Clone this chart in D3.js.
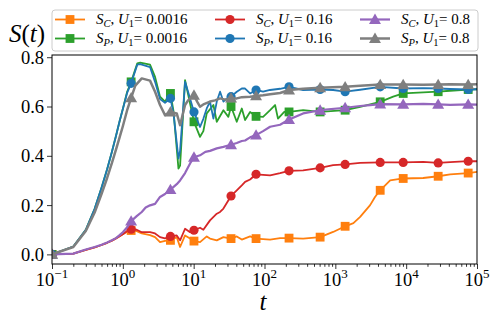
<!DOCTYPE html>
<html><head><meta charset="utf-8">
<script src="https://cdn.jsdelivr.net/npm/d3@7"></script>
<style>body{margin:0;background:#fff} svg{display:block}
svg text{font-family:"Liberation Serif","Times New Roman","DejaVu Serif",serif;}
</style>
</head><body>
<svg id="c" width="499" height="322"></svg>
<script>
// ---- data ----
const markerT = [0.1, 1.31, 4.7, 10.1, 33.7, 76, 222, 610, 1375, 4300, 9080, 28300, 75100];
const xTicks = [0.1, 1, 10, 100, 1000, 10000, 100000];
const xTickExp = ["\u22121", "0", "1", "2", "3", "4", "5"];
const yTicks = [0.0, 0.2, 0.4, 0.6, 0.8];

// S_C, U1 = 0.0016 (orange)
const tOrange = [0.2,0.3,0.4,0.5,0.6,0.7,0.8,0.9,1.0,1.15,1.57,1.85,2.42,2.85,3.35,3.94,5.77,6.43,7.56,8.9,12.3,15.3,17,21.2,26.3,40.6,47.8,62.6,95.5,120,166,351,931,1800,2240,3100,3630,5940,17400,41800,100000];
const vOrange = [0.003,0.018,0.028,0.038,0.047,0.056,0.065,0.074,0.082,0.092,0.094,0.085,0.078,0.07,0.05,0.055,0.07,0.03,0.077,0.064,0.05,0.073,0.064,0.057,0.07,0.073,0.06,0.073,0.062,0.06,0.066,0.064,0.091,0.127,0.152,0.2,0.233,0.30,0.31,0.325,0.335];
const mOrange = [0,0.097,0.057,0.054,0.064,0.064,0.066,0.070,0.114,0.260,0.308,0.317,0.330];

// S_P, U1 = 0.0016 (green)
const tGreen = [0.2,0.3,0.4,0.5,0.6,0.7,0.8,0.9,1.0,1.15,1.6,1.76,2.42,2.85,3.35,3.94,5.2,6.1,6.43,7.56,8.34,12.3,13.7,15.3,19,21.2,26.3,30.9,40.6,47.8,53.2,62.6,95.5,120,141,155,190,351,2240,6550,17400,41800,100000];
const vGreen = [0.032,0.10,0.185,0.27,0.345,0.415,0.48,0.54,0.59,0.66,0.775,0.778,0.77,0.72,0.64,0.62,0.58,0.348,0.36,0.707,0.65,0.477,0.50,0.572,0.606,0.538,0.585,0.558,0.538,0.592,0.545,0.578,0.558,0.585,0.606,0.551,0.578,0.585,0.599,0.64,0.657,0.664,0.67];
const mGreen = [0,0.70,0.653,0.538,0.60,0.56,0.578,0.578,0.585,0.619,0.653,0.66,0.669];

// S_C, U1 = 0.16 (red)
const tRed = [0.2,0.3,0.4,0.5,0.6,0.7,0.8,0.9,1.0,1.15,1.57,1.85,2.42,2.85,3.35,3.94,5.77,6.43,7.56,8.9,12.3,13.7,17,21.2,23.6,26.3,40.6,47.8,53.2,62.6,120,166,351,931,2240,17400,41800,100000];
const vRed = [0.003,0.018,0.028,0.038,0.047,0.056,0.065,0.074,0.082,0.095,0.10,0.09,0.09,0.085,0.07,0.065,0.077,0.057,0.104,0.09,0.108,0.10,0.138,0.165,0.172,0.186,0.26,0.28,0.294,0.304,0.321,0.33,0.341,0.362,0.371,0.375,0.374,0.378];
const mRed = [0,0.102,0.073,0.098,0.237,0.325,0.339,0.351,0.365,0.373,0.373,0.371,0.378];

// S_P, U1 = 0.16 (blue)
const tBlue = [0.2,0.3,0.4,0.5,0.6,0.7,0.8,0.9,1.0,1.15,1.6,1.76,2.42,2.85,3.35,3.94,5.2,6.1,6.43,7.56,8.34,12.3,13.7,15.3,17,19,21.2,23.6,26.3,28.7,40.6,47.8,53.2,62.6,95.5,120,166,351,931,2240,17400,41800,100000];
const vBlue = [0.032,0.10,0.185,0.27,0.345,0.415,0.48,0.54,0.59,0.655,0.77,0.772,0.76,0.70,0.63,0.615,0.57,0.389,0.42,0.70,0.66,0.517,0.55,0.592,0.62,0.551,0.62,0.66,0.62,0.63,0.66,0.673,0.673,0.653,0.66,0.667,0.672,0.667,0.667,0.668,0.675,0.671,0.67];
const mBlue = [0,0.694,0.633,0.578,0.64,0.667,0.68,0.669,0.66,0.68,0.673,0.673,0.669];

// S_C, U1 = 0.8 (purple)
const tPurple = [0.2,0.3,0.4,0.5,0.6,0.7,0.8,0.9,1.0,1.15,1.57,1.85,2.1,2.42,2.85,3.35,3.94,5.77,6.43,7.56,8.9,12.3,14.6,17,21.2,26.3,40.6,47.8,53.2,62.6,95.5,120,166,351,2240,3100,17400,41800,100000];
const vPurple = [0.003,0.02,0.03,0.039,0.048,0.057,0.066,0.078,0.09,0.11,0.155,0.172,0.19,0.199,0.205,0.233,0.245,0.285,0.30,0.33,0.369,0.402,0.416,0.42,0.43,0.436,0.452,0.46,0.462,0.475,0.50,0.518,0.526,0.572,0.602,0.606,0.611,0.607,0.608];
const mPurple = [0,0.135,0.263,0.394,0.445,0.484,0.547,0.585,0.595,0.610,0.609,0.609,0.609];

// S_P, U1 = 0.8 (gray)
const tGray = [0.2,0.3,0.4,0.5,0.6,0.7,0.8,0.9,1.0,1.15,1.5,1.85,2.42,2.85,3.35,3.94,5.77,6.43,7.56,8.34,11.2,12.3,14,17,20,23.6,28,40.6,47.8,62.6,95.5,120,166,351,2240,17400,41800,100000];
const vGray = [0.03,0.095,0.17,0.245,0.31,0.37,0.425,0.475,0.52,0.585,0.685,0.714,0.705,0.66,0.606,0.565,0.572,0.524,0.606,0.625,0.62,0.599,0.61,0.62,0.625,0.633,0.628,0.633,0.638,0.64,0.646,0.65,0.655,0.672,0.684,0.688,0.69,0.69];
const mGray = [0,0.635,0.578,0.646,0.634,0.643,0.667,0.676,0.68,0.689,0.689,0.689,0.689];

const series = [
  {sub:"C", u:"0.0016", color:"#ff7f0e", shape:"square",   lw:1.8, t:tOrange, v:vOrange, m:mOrange},
  {sub:"P", u:"0.0016", color:"#2ca02c", shape:"square",   lw:1.8, t:tGreen,  v:vGreen,  m:mGreen},
  {sub:"C", u:"0.16",   color:"#d62728", shape:"circle",   lw:1.8, t:tRed,    v:vRed,    m:mRed},
  {sub:"P", u:"0.16",   color:"#1f77b4", shape:"circle",   lw:1.8, t:tBlue,   v:vBlue,   m:mBlue},
  {sub:"C", u:"0.8",    color:"#9467bd", shape:"triangle", lw:2.2, t:tPurple, v:vPurple, m:mPurple},
  {sub:"P", u:"0.8",    color:"#7f7f7f", shape:"triangle", lw:2.5, t:tGray,   v:vGray,   m:mGray}
];

// ---- chart ----
const svg = d3.select("#c");
const L = 52, R = 477, T = 55, B = 264;
const x = d3.scaleLog().domain([0.1, 1e5]).range([L, R]);
const y = d3.scaleLinear().domain([-0.039, 0.809]).range([B, T]);

svg.append("defs").append("clipPath").attr("id","clip")
  .append("rect").attr("x",L).attr("y",T).attr("width",R-L).attr("height",B-T);

function sym(shape){
  if(shape==="square") return d3.symbol().type(d3.symbolSquare).size(78)();
  if(shape==="circle") return d3.symbol().type(d3.symbolCircle).size(66)();
  return d3.symbol().type(d3.symbolTriangle).size(62)();
}

// axes
const minor = [];
for (let e=-1; e<5; e++) for (let k=2; k<10; k++) minor.push(k*Math.pow(10,e));
const gx = svg.append("g").attr("transform",`translate(0,${B})`);
gx.call(d3.axisBottom(x).tickValues(minor).tickSize(2.8).tickFormat(""));
gx.append("g").call(d3.axisBottom(x).tickValues(xTicks).tickSize(5).tickFormat(""));
gx.selectAll(".domain").remove();
gx.selectAll("line").attr("stroke","#000").attr("stroke-width",0.8);

const xl = svg.append("g");
xTicks.forEach((t,i)=>{
  const tx = xl.append("text").attr("x", x(t)).attr("y", 286)
    .attr("text-anchor","middle").attr("font-size",18.5).attr("fill","#000");
  tx.append("tspan").text("10");
  tx.append("tspan").attr("dy",-8).attr("font-size",13).text(xTickExp[i]);
});

const gy = svg.append("g").attr("transform",`translate(${L},0)`);
gy.call(d3.axisLeft(y).tickValues(yTicks).tickSize(5).tickPadding(3).tickFormat(d3.format(".1f")));
gy.selectAll(".domain").remove();
gy.selectAll("line").attr("stroke","#000").attr("stroke-width",0.8);
gy.selectAll("text").attr("font-family",null).attr("font-size",18.5).attr("fill","#000");
gy.attr("font-family",null);
gx.attr("font-family",null);

// lines + markers
const plot = svg.append("g").attr("clip-path","url(#clip)");
const line = d3.line().x(d=>x(d[0])).y(d=>y(d[1]));
series.forEach(s=>{
  const pts = s.t.map((t,i)=>[t,s.v[i]]).concat(markerT.map((t,i)=>[t,s.m[i]]));
  pts.sort((a,b)=>a[0]-b[0]);
  plot.append("path").datum(pts).attr("d",line).attr("fill","none")
    .attr("stroke",s.color).attr("stroke-width",s.lw).attr("stroke-linejoin","round");
  plot.selectAll(null).data(markerT.map((t,i)=>[t,s.m[i]])).enter().append("path")
    .attr("d",sym(s.shape)).attr("fill",s.color)
    .attr("transform",d=>`translate(${x(d[0])},${y(d[1]) + (s.shape==="triangle"?1:0)})`);
});

// frame
svg.append("rect").attr("x",L).attr("y",T).attr("width",R-L).attr("height",B-T)
  .attr("fill","none").attr("stroke","#000").attr("stroke-width",1);

// axis labels
const yl = svg.append("text").attr("x",9).attr("y",42).attr("font-size",25).attr("fill","#000");
yl.append("tspan").attr("font-style","italic").text("S");
yl.append("tspan").text("(");
yl.append("tspan").attr("font-style","italic").text("t");
yl.append("tspan").text(")");
svg.append("text").attr("x",263).attr("y",310).attr("text-anchor","middle")
  .attr("font-size",25).attr("font-style","italic").attr("fill","#000").text("t");

// legend
const lg = svg.append("g");
lg.append("rect").attr("x",52).attr("y",10).attr("width",426).attr("height",41).attr("rx",3)
  .attr("fill","#fff").attr("fill-opacity",0.85).attr("stroke","#ccc").attr("stroke-width",1);
const colX = [55, 215, 360];
const rowY = [19.5, 38.5];
series.forEach((s,i)=>{
  const cx = colX[Math.floor(i/2)], cy = rowY[i%2];
  lg.append("line").attr("x1",cx).attr("x2",cx+30).attr("y1",cy).attr("y2",cy)
    .attr("stroke",s.color).attr("stroke-width",s.lw);
  lg.append("path").attr("d",sym(s.shape)).attr("fill",s.color)
    .attr("transform",`translate(${cx+15},${cy + (s.shape==="triangle"?1:0)})`);
  const tx = lg.append("text").attr("x",cx+41).attr("y",cy+4.5)
    .attr("font-size",15).attr("fill","#000");
  tx.append("tspan").attr("font-style","italic").text("S");
  tx.append("tspan").attr("font-style","italic").attr("font-size",10.5).attr("dy",3).text(s.sub);
  tx.append("tspan").attr("dy",-3).text(", ");
  tx.append("tspan").attr("font-style","italic").text("U");
  tx.append("tspan").attr("font-size",10.5).attr("dy",3).text("1");
  tx.append("tspan").attr("dy",-3).text("= " + s.u);
});
</script>
</body></html>
